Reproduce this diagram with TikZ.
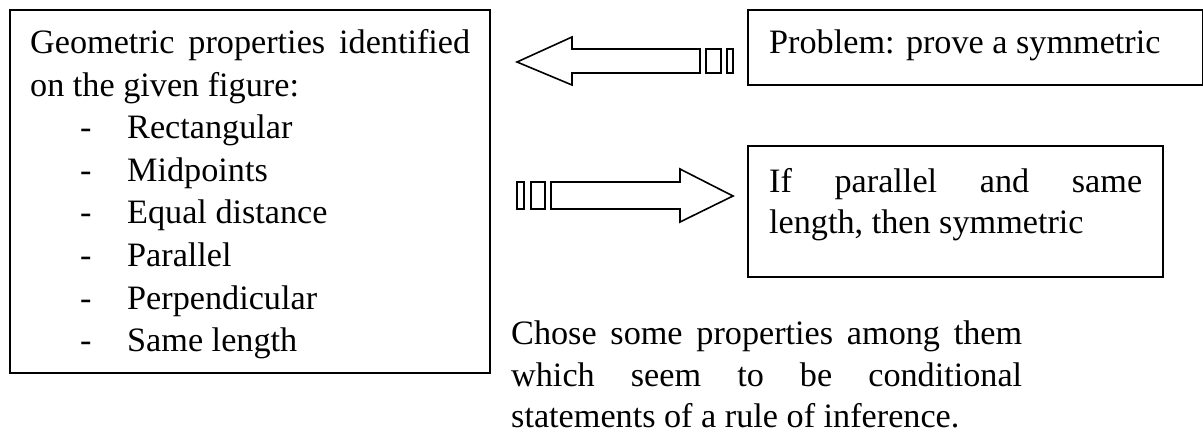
\documentclass[tikz,border=0pt]{standalone}
\usepackage{fontspec}
\setmainfont{Liberation Serif}
\begin{document}
\begin{tikzpicture}[x=1pt,y=-1pt,
  txt/.style={inner sep=0pt,anchor=base west,font=\fontsize{34.2}{42}\selectfont},
  boxframe/.style={draw,line width=2pt,inner sep=0pt},
  blockarrow/.style={draw,line width=1.6pt,line join=miter}]
\useasboundingbox (0,0) rectangle (1203,434);
% frames
\node[boxframe,minimum width=480pt,minimum height=363pt] (geo) at (250,191.5) {};
\node[boxframe,minimum width=455pt,minimum height=75pt] (prob) at (975.5,47.5) {};
\node[boxframe,minimum width=415pt,minimum height=131pt] (rule) at (955.5,211.5) {};
% left box text
\node[txt] (g1) at (30,53) {\makebox[440pt][s]{Geometric properties identified}};
\node[txt] (g2) at (30,96) {on the given figure:};
\foreach \t [count=\i] in {Rectangular,Midpoints,Equal distance,Parallel,Perpendicular,Same length}{
  \node[txt] (d\i) at (80,{53+42.7*(\i+1)}) {-};
  \node[txt] (it\i) at (127,{53+42.7*(\i+1)}) {\t};
}
% problem text
\node[txt] (pt) at (769,53) {Problem: prove a symmetric};
% rule text
\node[txt] (r1) at (769,192) {\makebox[373pt][s]{If parallel and same}};
\node[txt] (r2) at (769,233) {length, then symmetric};
% bottom text
\node[txt] (b1) at (511,344) {\makebox[511pt][s]{Chose some properties among them}};
\node[txt] (b2) at (511,386) {\makebox[511pt][s]{which seem to be conditional}};
\node[txt] (b3) at (511,427) {statements of a rule of inference.};
% left block arrow
\draw[blockarrow] (517,62) -- (572,37) -- (572,49) -- (700,49) -- (700,73) -- (572,73) -- (572,85) -- cycle;
\draw[blockarrow] (706,49) rectangle (721,73);
\draw[blockarrow] (727,49) rectangle (733,73);
% right block arrow
\draw[blockarrow] (551,182) -- (680,182) -- (680,169) -- (733,196) -- (680,222) -- (680,209) -- (551,209) -- cycle;
\draw[blockarrow] (531,182) rectangle (545,209);
\draw[blockarrow] (517,182) rectangle (524,209);
\end{tikzpicture}
\end{document}
